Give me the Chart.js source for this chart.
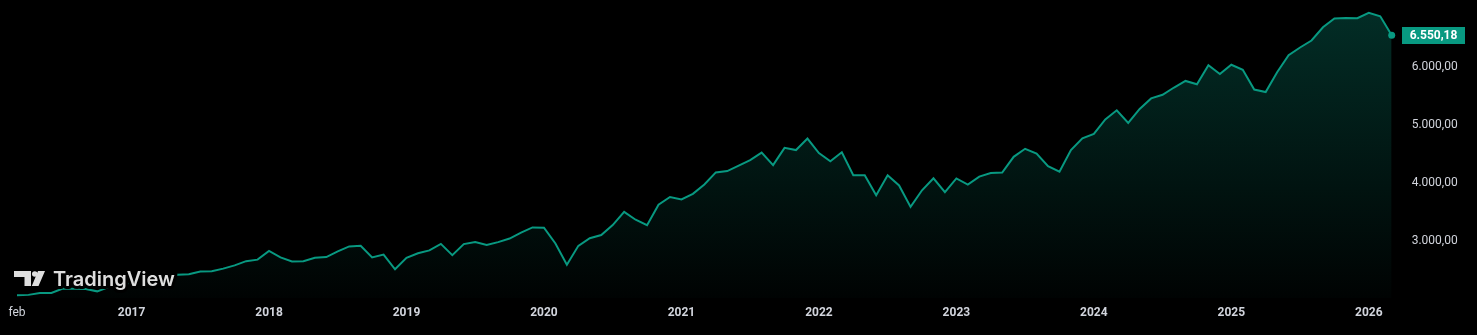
<!DOCTYPE html>
<html>
<head>
<meta charset="utf-8">
<script src="https://cdn.jsdelivr.net/npm/chart.js@4.4.1/dist/chart.umd.min.js"></script>
<style>
  html, body { margin: 0; padding: 0; background: #000; }
  #wrap { width: 1477px; height: 335px; position: relative; }
</style>
</head>
<body>
<div id="wrap"><canvas id="myChart"></canvas></div>
<script>
// monthly closes, Mar 2016 .. Mar 2026
const startYear = 2016;
const startMonth = 2; // 0 = jan
const closes2016 = [2060, 2065, 2097, 2099, 2174, 2171, 2168, 2126, 2199, 2239];
const closes2017 = [2279, 2364, 2363, 2384, 2412, 2423, 2470, 2472, 2519, 2575, 2648, 2674];
const closes2018 = [2824, 2714, 2641, 2648, 2705, 2718, 2816, 2902, 2914, 2712, 2760, 2507];
const closes2019 = [2704, 2784, 2834, 2946, 2752, 2942, 2980, 2926, 2977, 3038, 3141, 3231];
const closes2020 = [3226, 2954, 2585, 2912, 3044, 3100, 3271, 3500, 3363, 3270, 3622, 3756];
const closes2021 = [3714, 3811, 3973, 4181, 4204, 4298, 4395, 4523, 4308, 4605, 4567, 4766];
const closes2022 = [4516, 4374, 4530, 4132, 4132, 3785, 4130, 3955, 3586, 3872, 4080, 3840];
const closes2023 = [4077, 3970, 4109, 4169, 4180, 4450, 4589, 4508, 4288, 4194, 4568, 4770];
const closes2024 = [4846, 5096, 5254, 5036, 5278, 5460, 5522, 5648, 5762, 5705, 6032, 5882];
const closes2025 = [6041, 5955, 5612, 5569, 5912, 6205, 6339, 6460, 6688, 6840, 6849, 6845];
const closes2026 = [6939, 6878, 6550.18];

const yTicks = [3000, 4000, 5000, 6000];
const firstTickLabel = 'feb';

const closes = [].concat(closes2016, closes2017, closes2018, closes2019, closes2020,
  closes2021, closes2022, closes2023, closes2024, closes2025, closes2026);

// category labels "YYYY-MM"
const labels = closes.map(function(_, i) {
  const m = startMonth + i;
  const y = startYear + Math.floor(m / 12);
  return y + '-' + String(m % 12 + 1).padStart(2, '0');
});

const green = '#089981';
const textColor = '#d1d4dc';
const lastIdx = closes.length - 1;

function fmt(v) {
  const parts = v.toFixed(2).split('.');
  return parts[0].replace(/\B(?=(\d{3})+(?!\d))/g, '.') + ',' + parts[1];
}

const overlay = {
  id: 'overlay',
  afterDraw(chart) {
    const c = chart.ctx;
    const yScale = chart.scales.y;
    const lastV = closes[lastIdx];
    const py = Math.round(yScale.getPixelForValue(lastV));

    // last value badge
    c.save();
    c.fillStyle = green;
    c.fillRect(1402, py - 8, 63, 17);
    c.fillStyle = '#ffffff';
    c.font = 'bold 12px Roboto';
    c.textAlign = 'center';
    c.textBaseline = 'middle';
    c.fillText(fmt(lastV), 1433.5, py + 0.5);
    c.restore();

    // logo
    c.save();
    c.lineJoin = 'round';
    c.strokeStyle = '#000';
    c.lineWidth = 6;
    c.fillStyle = '#dedede';
    c.font = '600 20px Inter';
    c.textBaseline = 'alphabetic';
    c.strokeText('TradingView', 53, 286);
    c.fillText('TradingView', 53, 286);

    const icon = new Path2D();
    icon.moveTo(14, 271); icon.lineTo(31, 271); icon.lineTo(31, 286);
    icon.lineTo(24.5, 286); icon.lineTo(24.5, 277); icon.lineTo(14, 277); icon.closePath();
    icon.moveTo(38, 271); icon.lineTo(45, 271); icon.lineTo(38.5, 286); icon.lineTo(31.8, 286); icon.closePath();
    c.stroke(icon);
    c.fill(icon);
    c.beginPath();
    c.arc(34.8, 274, 2.8, 0, Math.PI * 2);
    c.fill();
    c.restore();
  }
};

const ctx = document.getElementById('myChart').getContext('2d');
new Chart(ctx, {
  type: 'line',
  data: {
    labels: labels,
    datasets: [{
      data: closes,
      borderColor: green,
      borderWidth: 2,
      tension: 0,
      fill: 'start',
      backgroundColor: function(context) {
        const area = context.chart.chartArea;
        if (!area) return 'rgba(8,153,129,0.2)';
        const g = context.chart.ctx.createLinearGradient(0, area.top, 0, area.bottom);
        g.addColorStop(0, 'rgba(8,153,129,0.30)');
        g.addColorStop(1, 'rgba(8,153,129,0.02)');
        return g;
      },
      pointRadius: function(c) { return c.dataIndex === lastIdx ? 3.5 : 0; },
      pointBackgroundColor: green,
      pointBorderWidth: 0,
      clip: false
    }]
  },
  options: {
    responsive: true,
    maintainAspectRatio: false,
    animation: false,
    layout: { padding: { left: 17, top: 0, right: 0, bottom: 0 } },
    plugins: {
      legend: { display: false },
      tooltip: { enabled: false }
    },
    scales: {
      x: {
        type: 'category',
        grid: { display: false, drawTicks: false },
        border: { display: false },
        afterFit: function(s) { s.height = 37; s.paddingLeft = 0; s.paddingRight = 0; },
        ticks: {
          autoSkip: false,
          maxRotation: 0,
          padding: 8,
          color: textColor,
          font: function(c) {
            return c.index === 0 ? { family: 'Roboto', size: 12, weight: 'normal' }
                                 : { family: 'Roboto', size: 12, weight: 'bold' };
          },
          callback: function(val, i) {
            if (i === 0) return firstTickLabel;
            const l = labels[i];
            return l.endsWith('-01') ? l.slice(0, 4) : '';
          }
        }
      },
      y: {
        position: 'right',
        min: 2011,
        max: 7091,
        grid: { display: false, drawTicks: false },
        border: { display: false },
        afterBuildTicks: function(s) { s.ticks = yTicks.map(function(v) { return { value: v }; }); },
        afterFit: function(s) { s.width = 85.3; s.paddingTop = 0; s.paddingBottom = 0; },
        ticks: {
          padding: 20,
          color: textColor,
          font: { family: 'Roboto', size: 12 },
          callback: function(v) { return fmt(v); }
        }
      }
    }
  },
  plugins: [overlay]
});
</script>
</body>
</html>
